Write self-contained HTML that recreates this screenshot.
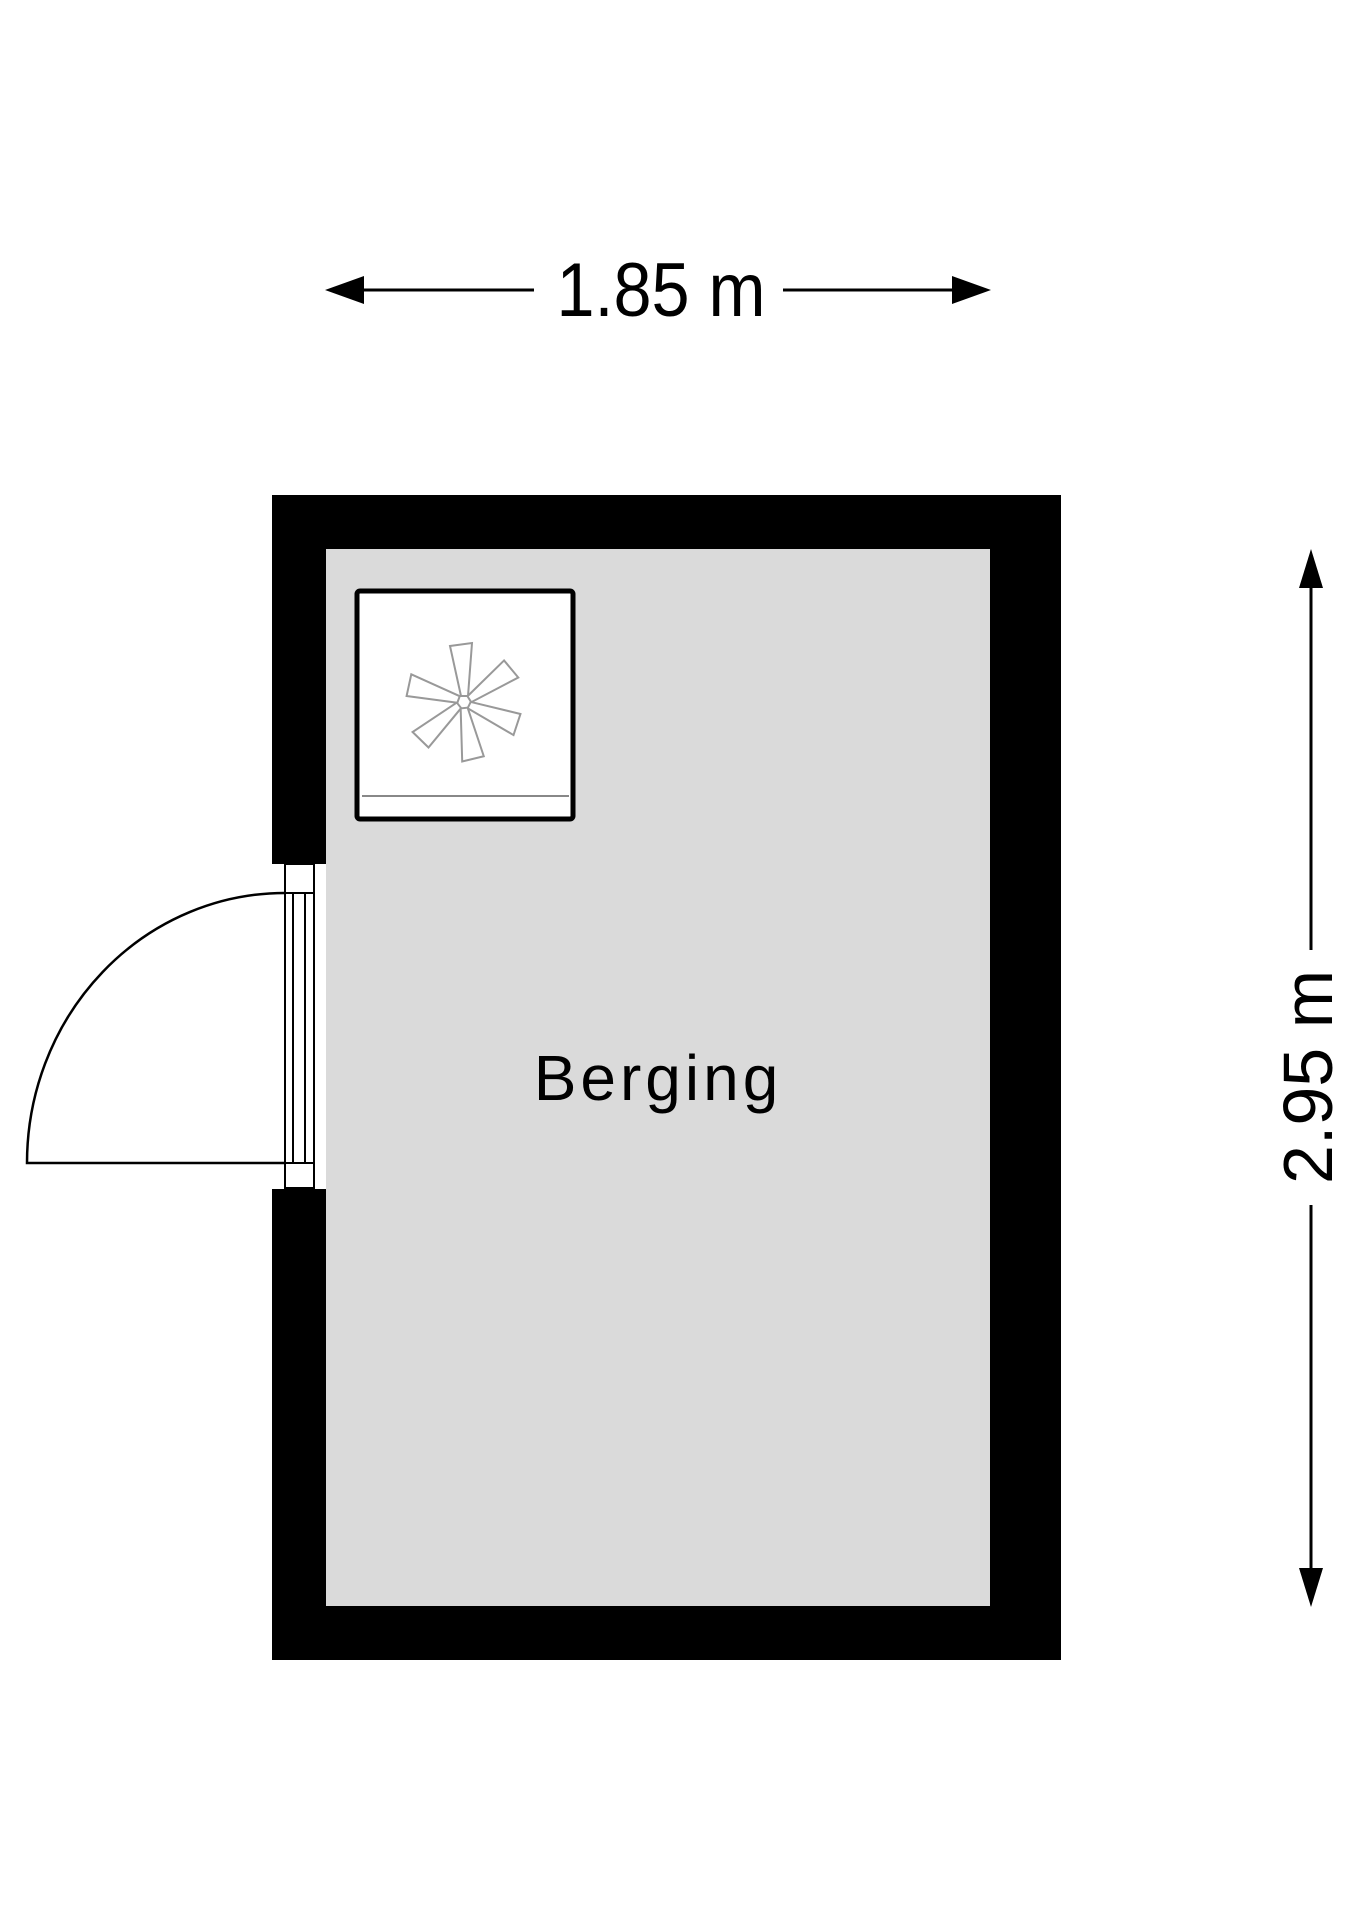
<!DOCTYPE html>
<html><head><style>
html,body{margin:0;padding:0;background:#fff;}
svg{display:block;}
</style></head><body>
<svg width="1358" height="1920" viewBox="0 0 1358 1920" xmlns="http://www.w3.org/2000/svg">
<rect width="1358" height="1920" fill="#fff"/>
<!-- top dimension -->
<line x1="350" y1="290" x2="534" y2="290" stroke="#000" stroke-width="3"/>
<line x1="783" y1="290" x2="965" y2="290" stroke="#000" stroke-width="3"/>
<polygon points="325,290 364,276 364,304" fill="#000"/>
<polygon points="991,290 952,276 952,304" fill="#000"/>
<text x="661" y="316" font-family="Liberation Sans, sans-serif" font-size="76" text-anchor="middle" transform="translate(661 0) scale(0.9 1) translate(-661 0)">1.85 m</text>
<!-- right dimension -->
<line x1="1311" y1="575" x2="1311" y2="950" stroke="#000" stroke-width="3"/>
<line x1="1311" y1="1205" x2="1311" y2="1580" stroke="#000" stroke-width="3"/>
<polygon points="1311,549 1299,588 1323,588" fill="#000"/>
<polygon points="1311,1607 1299,1568 1323,1568" fill="#000"/>
<text x="0" y="0" font-family="Liberation Sans, sans-serif" font-size="70" text-anchor="middle" transform="translate(1332 1077) rotate(-90)">2.95 m</text>
<!-- walls -->
<rect x="272" y="495" width="789" height="1165" fill="#000"/>
<rect x="326" y="549" width="664" height="1057" fill="#dadada"/>
<!-- door opening -->
<rect x="272" y="864" width="54" height="325" fill="#fff"/>
<rect x="326" y="864" width="6" height="325" fill="#dadada"/>
<rect x="285" y="864" width="29" height="324" fill="#fff" stroke="#000" stroke-width="2"/>
<line x1="285" y1="893" x2="314" y2="893" stroke="#000" stroke-width="2"/>
<line x1="285" y1="1163" x2="314" y2="1163" stroke="#000" stroke-width="2"/>
<line x1="293" y1="893" x2="293" y2="1163" stroke="#000" stroke-width="2"/>
<line x1="305" y1="893" x2="305" y2="1163" stroke="#000" stroke-width="2"/>
<path d="M285,893 A258,270 0 0 0 27,1163 L285,1163" fill="none" stroke="#000" stroke-width="2.5"/>
<!-- closet -->
<rect x="357" y="591" width="216" height="228" rx="3" fill="#fff" stroke="#000" stroke-width="5"/>
<line x1="362" y1="796" x2="569" y2="796" stroke="#888" stroke-width="2"/>
<g transform="translate(464 702)" fill="#fff" stroke="#999" stroke-width="2">
<polygon points="-3,-6 -14,-56 8,-59 4,-6" transform="rotate(0)"/>
<polygon points="-3,-6 -14,-56 8,-59 4,-6" transform="rotate(58)"/>
<polygon points="-3,-6 -14,-56 8,-59 4,-6" transform="rotate(116)"/>
<polygon points="-3,-6 -14,-56 8,-59 4,-6" transform="rotate(174)"/>
<polygon points="-3,-6 -14,-56 8,-59 4,-6" transform="rotate(232)"/>
<polygon points="-3,-6 -14,-56 8,-59 4,-6" transform="rotate(290)"/>
</g>
<!-- label -->
<text x="658" y="1100" font-family="Liberation Sans, sans-serif" font-size="64" letter-spacing="4" text-anchor="middle">Berging</text>
</svg>
</body></html>
